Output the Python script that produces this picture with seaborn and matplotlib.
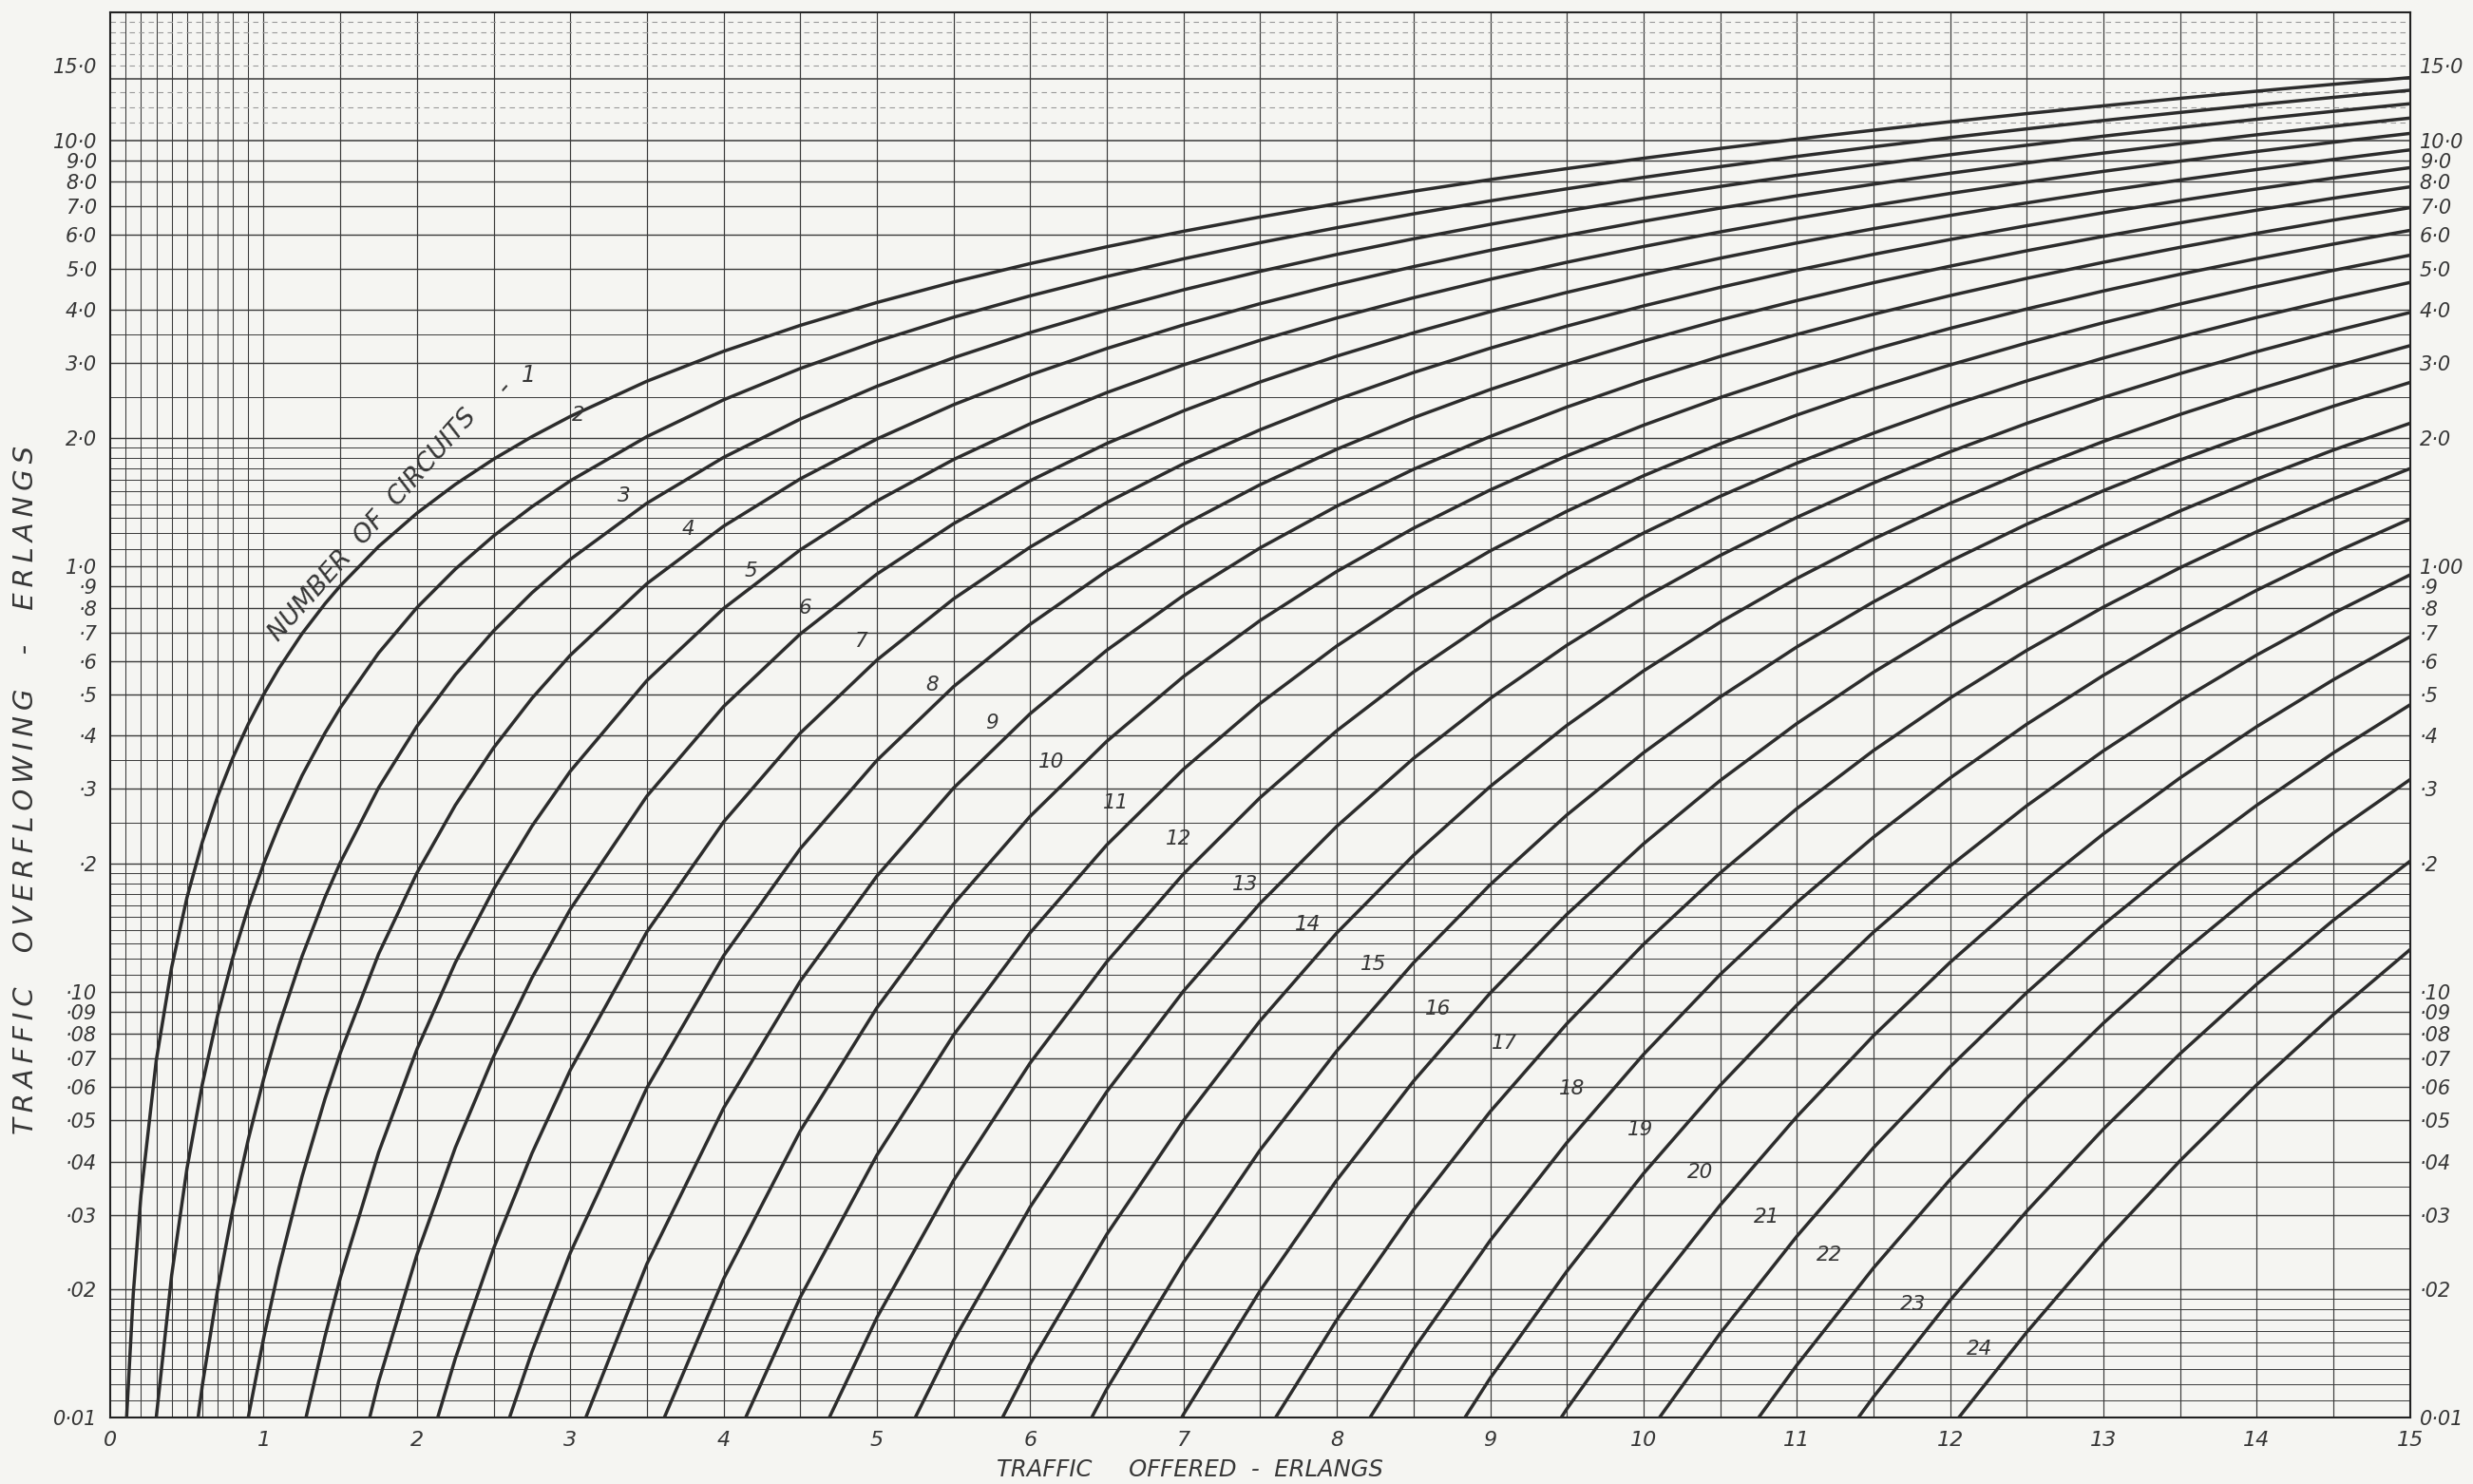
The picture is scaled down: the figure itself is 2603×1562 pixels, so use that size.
import numpy as np
import pandas as pd
import seaborn as sns
import matplotlib.pyplot as plt

offered = [0.1, 0.15, 0.2, 0.3, 0.4, 0.5, 0.6, 0.7, 0.8, 0.9, 1.0, 1.1, 1.25,
           1.4, 1.5, 1.75, 2.0, 2.25, 2.5, 2.75, 3.0, 3.5, 4.0, 4.5, 5.0, 5.5,
           6.0, 6.5, 7.0, 7.5, 8.0, 8.5, 9.0, 9.5, 10.0, 10.5, 11.0, 11.5,
           12.0, 12.5, 13.0, 13.5, 14.0, 14.5, 15.0]

# Traffic overflowing (erlangs) per number of circuits.
# Every list ends at 15 erlangs, so it lines up with the tail of `offered`.
c01 = [0.00909, 0.0196, 0.0333, 0.0692, 0.1143, 0.1667, 0.225, 0.2882, 0.3556,
       0.4263, 0.5, 0.5762, 0.6944, 0.8167, 0.9, 1.1136, 1.3333, 1.5577,
       1.7857, 2.0167, 2.25, 2.7222, 3.2, 3.6818, 4.1667, 4.6538, 5.1429,
       5.6333, 6.125, 6.6176, 7.1111, 7.6053, 8.1, 8.5952, 9.0909, 9.587,
       10.083, 10.58, 11.077, 11.574, 12.071, 12.569, 13.067, 13.564, 14.0625]
c02 = [0.00328, 0.01004, 0.0216, 0.0385, 0.0607, 0.0882, 0.1208, 0.1581, 0.2,
       0.246, 0.3222, 0.4059, 0.4655, 0.6259, 0.8, 0.9851, 1.1792, 1.3807,
       1.5882, 2.0176, 2.4615, 2.916, 3.3784, 3.8468, 4.32, 4.7969, 5.2769,
       5.7594, 6.2439, 6.7301, 7.2178, 7.7068, 8.1967, 8.6876, 9.1793, 9.6717,
       10.1647, 10.6582, 11.1524, 11.6467, 12.1416, 12.6369, 13.1323]
c03 = [0.00633, 0.0119, 0.02, 0.031, 0.0451, 0.0625, 0.0834, 0.1212, 0.1669,
       0.2015, 0.3021, 0.4211, 0.5562, 0.7054, 0.8667, 1.0385, 1.4074, 1.8028,
       2.218, 2.6483, 3.0901, 3.541, 3.999, 4.4628, 4.9314, 5.4037, 5.8793,
       6.3575, 6.8381, 7.3206, 7.8049, 8.2904, 8.7774, 9.2654, 9.7544, 10.2443,
       10.7349, 11.2262, 11.7182, 12.2106]
c04 = [0.00614, 0.01003, 0.01538, 0.0225, 0.0368, 0.0561, 0.0719, 0.1229,
       0.1905, 0.2747, 0.3748, 0.4898, 0.6183, 0.9109, 1.2427, 1.6052, 1.9917,
       2.3971, 2.8174, 3.2496, 3.6914, 4.141, 4.5971, 5.0584, 5.5243, 5.9939,
       6.4666, 6.9421, 7.42, 7.8999, 8.3816, 8.8648, 9.3494, 9.8352, 10.3221,
       10.81, 11.2988]
c05 = [0.00912, 0.01552, 0.0213, 0.042, 0.0734, 0.1172, 0.1743, 0.2453, 0.3302,
       0.5394, 0.7963, 1.0936, 1.4243, 1.7823, 2.1624, 2.5604, 2.973, 3.3976,
       3.8321, 4.2747, 4.7242, 5.1794, 5.6395, 6.1038, 6.5716, 7.0426, 7.5162,
       7.9922, 8.4702, 8.95, 9.4315, 9.9143, 10.3984]
c06 = [0.0053, 0.01216, 0.02417, 0.0431, 0.0706, 0.108, 0.1565, 0.2887, 0.4686,
       0.6937, 0.9592, 1.2596, 1.5895, 1.9442, 2.3193, 2.7116, 3.118, 3.5364,
       3.9646, 4.4014, 4.8451, 5.295, 5.7501, 6.2096, 6.6731, 7.1399, 7.6096,
       8.0819, 8.5566, 9.0333, 9.5117]
c07 = [0.00688, 0.01377, 0.025, 0.0418, 0.0656, 0.1386, 0.251, 0.4058, 0.6026,
       0.8388, 1.1103, 1.4129, 1.7421, 2.0941, 2.4653, 2.8529, 3.2542, 3.6674,
       4.0904, 4.522, 4.9608, 5.406, 5.8565, 6.3118, 6.7712, 7.2343, 7.7004,
       8.1694, 8.6409]
c08 = [0.00778, 0.01429, 0.0244, 0.0596, 0.1217, 0.2172, 0.3502, 0.5219,
       0.7313, 0.9757, 1.2518, 1.5559, 1.8846, 2.2344, 2.6024, 2.9861, 3.3832,
       3.7918, 4.2103, 4.6374, 5.0719, 5.5128, 5.9593, 6.4107, 6.8665, 7.326,
       7.7888]
c09 = [0.00811, 0.023, 0.0534, 0.1061, 0.1873, 0.3015, 0.4509, 0.6357, 0.8547,
       1.1055, 1.3851, 1.6906, 2.0187, 2.3667, 2.7321, 3.1125, 3.5058, 3.9106,
       4.3251, 4.7482, 5.1788, 5.6159, 6.0587, 6.5066, 6.959]
c10 = [0.00804, 0.0212, 0.0472, 0.0919, 0.161, 0.2589, 0.3885, 0.5512, 0.7466,
       0.9733, 1.2292, 1.5117, 1.8181, 2.1458, 2.4924, 2.8554, 3.2329, 3.6231,
       4.0244, 4.4354, 4.8549, 5.282, 5.7157, 6.1552]
c11 = [0.0077, 0.0192, 0.0414, 0.0793, 0.1379, 0.2218, 0.334, 0.4767, 0.6503,
       0.8543, 1.0874, 1.3475, 1.6323, 1.9396, 2.2669, 2.6121, 2.9732, 3.3482,
       3.7356, 4.1339, 4.5417, 4.958, 5.3819]
c12 = [0.0072, 0.0172, 0.0361, 0.0682, 0.1179, 0.1896, 0.2865, 0.4113, 0.5649,
       0.7478, 0.959, 1.1974, 1.461, 1.7478, 2.0558, 2.3828, 2.7269, 3.0862,
       3.459, 3.8438, 4.2394, 4.6444]
c13 = [0.0066, 0.0152, 0.0313, 0.0584, 0.1006, 0.1617, 0.2453, 0.354, 0.4895,
       0.6527, 0.8434, 1.0608, 1.3037, 1.5703, 1.8588, 2.1674, 2.4941, 2.8372,
       3.1949, 3.5658, 3.9483]
c14 = [0.006, 0.0134, 0.027, 0.04995, 0.0857, 0.1378, 0.2096, 0.3041, 0.4232,
       0.5682, 0.7396, 0.937, 1.1598, 1.4065, 1.6757, 1.9657, 2.2748, 2.6012,
       2.9434, 3.2997]
c15 = [0.00535, 0.0117, 0.0232, 0.0426, 0.0728, 0.1172, 0.1788, 0.2607, 0.365,
       0.4934, 0.6468, 0.8253, 1.0288, 1.2561, 1.5062, 1.7777, 2.069, 2.3786,
       2.7048]
c16 = [0.00474, 0.0102, 0.0199, 0.0362, 0.0618, 0.0995, 0.1523, 0.223, 0.3141,
       0.4274, 0.5641, 0.725, 0.9099, 1.1185, 1.35, 1.6031, 1.8766, 2.169]
c17 = [0.00877, 0.017, 0.0308, 0.0524, 0.0843, 0.1295, 0.1905, 0.2698, 0.3694,
       0.4908, 0.6351, 0.8025, 0.9932, 1.2064, 1.4415, 1.6973]
c18 = [0.00756, 0.0145, 0.0261, 0.0443, 0.0714, 0.11, 0.1624, 0.2312, 0.3185,
       0.426, 0.5549, 0.7059, 0.8794, 1.0751, 1.2925]
c19 = [0.00649, 0.0124, 0.0221, 0.0375, 0.0604, 0.0932, 0.1383, 0.1978, 0.2741,
       0.3689, 0.4836, 0.6193, 0.7765, 0.9554]
c20 = [0.00555, 0.0105, 0.0187, 0.0316, 0.051, 0.079, 0.1175, 0.169, 0.2354,
       0.3187, 0.4205, 0.5419, 0.6839]
c21 = [0.00889, 0.0158, 0.0267, 0.0431, 0.0668, 0.0998, 0.1441, 0.2018, 0.2748,
       0.3648, 0.4731]
c22 = [0.00753, 0.0133, 0.0225, 0.0363, 0.0564, 0.0846, 0.1227, 0.1727, 0.2365,
       0.3158]
c23 = [0.00637, 0.0112, 0.0189, 0.0306, 0.0477, 0.0717, 0.1044, 0.1476, 0.2031]
c24 = [0.00538, 0.00945, 0.0159, 0.0258, 0.0402, 0.0606, 0.0886, 0.1259]

curves = [c01, c02, c03, c04, c05, c06, c07, c08, c09, c10, c11, c12,
          c13, c14, c15, c16, c17, c18, c19, c20, c21, c22, c23, c24]

# axis tick values and their hand-lettered labels
x_ticks = list(range(0, 16))
y_ticks = [15, 10, 9, 8, 7, 6, 5, 4, 3, 2, 1, 0.9, 0.8, 0.7, 0.6, 0.5, 0.4,
           0.3, 0.2, 0.1, 0.09, 0.08, 0.07, 0.06, 0.05, 0.04, 0.03, 0.02, 0.01]
y_labels_left = ["15·0", "10·0", "9·0", "8·0", "7·0", "6·0", "5·0", "4·0",
                 "3·0", "2·0", "1·0", "·9", "·8", "·7", "·6", "·5", "·4", "·3",
                 "·2", "·10", "·09", "·08", "·07", "·06", "·05", "·04", "·03",
                 "·02", "0·01"]
y_labels_right = list(y_labels_left)
y_labels_right[10] = "1·00"

# where the circuit numbers are lettered beside the curves
label_spots = [(3.05, 2.27), (3.35, 1.46), (3.77, 1.22), (4.18, 0.975),
               (4.53, 0.80), (4.90, 0.667), (5.36, 0.526), (5.75, 0.429),
               (6.14, 0.347), (6.56, 0.279), (6.97, 0.229), (7.40, 0.179),
               (7.81, 0.144), (8.24, 0.1165), (8.66, 0.0911), (9.09, 0.0757),
               (9.53, 0.0592), (9.98, 0.0475), (10.37, 0.0377), (10.80, 0.0296),
               (11.21, 0.0241), (11.76, 0.0185), (12.19, 0.0145)]

rows = []
for n, ys in enumerate(curves, start=1):
    xs = offered[-len(ys):]
    for x, y in zip(xs, ys):
        rows.append({"offered": x, "overflow": y, "circuits": n})
df = pd.DataFrame(rows)

sns.set_style("white")
plt.rcParams["font.family"] = ["DejaVu Sans"]

paper = "#f5f5f2"
ink = "#2c2c2c"
grid_ink = "#3a3a3a"
text_ink = "#363636"

fig = plt.figure(figsize=(26.03, 15.62), dpi=100, facecolor=paper)
ax = fig.add_axes([0.0446, 0.0446, 0.93, 0.947])
ax.set_facecolor(paper)
ax.set_yscale("log")
ax.set_xlim(0, 15)
ax.set_ylim(0.01, 20)

# graph-paper ruling
fine_x = np.round(np.arange(0.1, 1.0, 0.1), 2)
half_x = np.arange(1.0, 15.0, 0.5)
ax.vlines(fine_x, 0.01, 20, color=grid_ink, lw=0.75, zorder=1)
ax.vlines(half_x, 0.01, 20, color=grid_ink, lw=0.85, zorder=1)

steps = [1.1, 1.2, 1.3, 1.4, 1.5, 1.6, 1.7, 1.8, 1.9, 2.5, 3.5]
mains = [1, 2, 3, 4, 5, 6, 7, 8, 9]
for dec in [0.01, 0.1, 1.0]:
    ax.hlines([dec * s for s in steps], 0, 15, color=grid_ink, lw=0.7, zorder=1)
    ax.hlines([dec * m for m in mains], 0, 15, color=grid_ink, lw=1.0, zorder=1)
ax.hlines([10, 14], 0, 15, color=grid_ink, lw=1.1, zorder=1)
ax.hlines([11, 12, 13, 15, 16, 17, 18, 19], 0, 15, color="#9a9a9a", lw=0.8,
          linestyles=(0, (5, 4)), zorder=1)

sns.lineplot(data=df, x="offered", y="overflow", units="circuits",
             estimator=None, sort=False, color=ink, lw=2.5, ax=ax, zorder=3)

for sp in ax.spines.values():
    sp.set_color("#222222")
    sp.set_linewidth(1.5)

ax.set_xlabel("")
ax.set_ylabel("")
ax.minorticks_off()
ax.set_xticks(x_ticks)
ax.set_xticklabels([str(t) for t in x_ticks], fontsize=16, fontstyle="italic",
                   color=text_ink)
ax.set_yticks(y_ticks)
ax.set_yticklabels(y_labels_left, fontsize=15, fontstyle="italic",
                   color=text_ink)
ax.tick_params(length=0, pad=10)

ax2 = ax.twinx()
ax2.set_yscale("log")
ax2.set_ylim(0.01, 20)
ax2.minorticks_off()
ax2.set_yticks(y_ticks)
ax2.set_yticklabels(y_labels_right, fontsize=15, fontstyle="italic",
                    color=text_ink)
ax2.tick_params(length=0, pad=7)
for sp in ax2.spines.values():
    sp.set_visible(False)

# curve numbers
lab_font = dict(fontsize=15.5, fontstyle="italic", color=text_ink,
                ha="center", va="center", zorder=4)
for n, (lx, ly) in enumerate(label_spots, start=2):
    ax.text(lx, ly, str(n), **lab_font)
ax.text(1.71, 1.25, "NUMBER  OF  CIRCUITS", rotation=48.5,
        rotation_mode="anchor", **{**lab_font, "fontsize": 19.5})
ax.text(2.57, 2.63, "-", rotation=48.5, **{**lab_font, "fontsize": 20})
ax.text(2.73, 2.81, "1", **{**lab_font, "fontsize": 17})

fig.text(0.481, 0.0096, "TRAFFIC     OFFERED  -  ERLANGS", ha="center",
         va="center", fontsize=17.5, fontstyle="italic", color=text_ink)
spaced = "\u2009".join("TRAFFIC  OVERFLOWING  -  ERLANGS")
fig.text(0.0102, 0.468, spaced, rotation=90, ha="center", va="center",
         fontsize=21, fontstyle="italic", color=text_ink)

fig.savefig("out.png", dpi=100, facecolor=paper)
